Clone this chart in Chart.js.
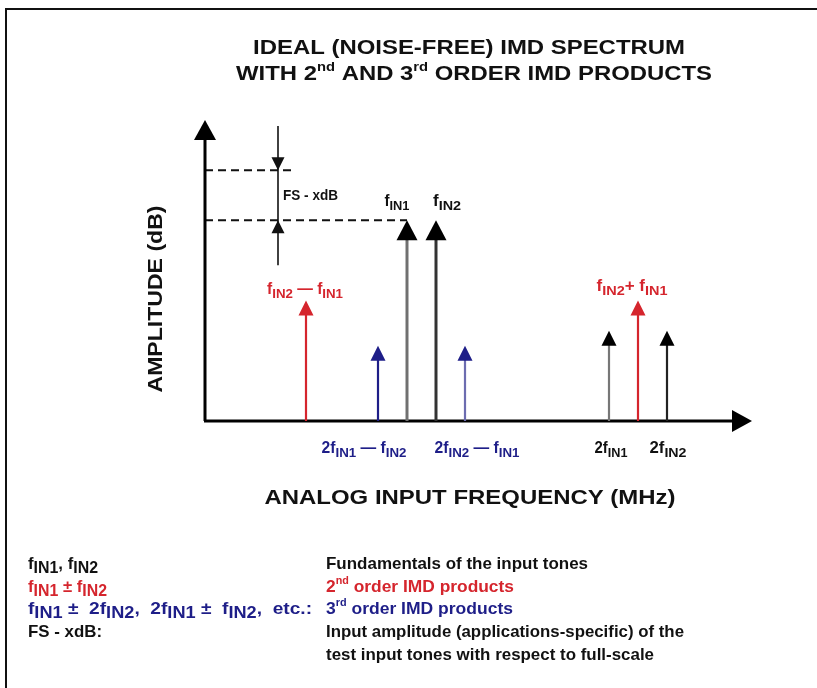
<!DOCTYPE html>
<html>
<head>
<meta charset="utf-8">
<script src="https://cdn.jsdelivr.net/npm/chart.js@4/dist/chart.umd.min.js"></script>
<style>
html, body { margin: 0; padding: 0; background: #fff; }
#frame { position: absolute; left: 5px; top: 8px; width: 830px; height: 700px; border-top: 2px solid #111; border-left: 2px solid #111; }
canvas { position: absolute; left: 0; top: 0; }
</style>
</head>
<body>
<div id="frame"></div>
<canvas id="imd" width="817" height="688"></canvas>
<script>
// spectrum lines (frequency in arbitrary MHz units, amplitude in dB above the floor)
const tones = ['fIN2-fIN1', '2fIN1-fIN2', 'fIN1', 'fIN2', '2fIN2-fIN1', '2fIN1', 'fIN2+fIN1', '2fIN2'];
const freqs = [10.1, 17.3, 20.2, 23.1, 26.0, 40.4, 43.3, 46.2];
const amps = [24, 15, 40, 40, 15, 18, 24, 18];
const orders = ['2nd', '3rd', 'fund', 'fund', '3rd', 'harm', '2nd', 'harm'];
const fullScale = 50;
const freqMax = 54.7;
const ampMax = 60;

const RED = '#d5252d';
const BLUE = '#1e1e88';

// stem / head colours per tone
const stemColors = [RED, BLUE, '#707070', '#333333', '#6c6cb0', '#777777', RED, '#222222'];
const headColors = [RED, BLUE, '#000', '#000', BLUE, '#000', RED, '#000'];

// rich text: segments [text, kind] kind = '' | 'sub' | 'sup'
// fit = target width in px (text is squeezed/stretched horizontally to it)
function rich(ctx, segs, x, y, size, color, align, fit, subScale) {
    const fam = '"Liberation Sans", Arial, sans-serif';
    const ss = subScale || 0.85;
    const fontFor = k => 'bold ' + (k === 'sub' ? size * ss : k === 'sup' ? size * 0.62 : size) + 'px ' + fam;
    let w = 0;
    segs.forEach(s => { ctx.font = fontFor(s[1]); w += ctx.measureText(s[0]).width; });
    const sq = fit ? fit / w : 1;
    let x0 = align === 'center' ? x - w * sq / 2 : align === 'right' ? x - w * sq : x;
    ctx.save();
    ctx.translate(x0, y);
    ctx.scale(sq, 1);
    ctx.fillStyle = color;
    ctx.textBaseline = 'middle';
    ctx.textAlign = 'left';
    let cx = 0;
    segs.forEach(s => {
        ctx.font = fontFor(s[1]);
        const dy = s[1] === 'sub' ? size * 0.28 : s[1] === 'sup' ? -size * 0.32 : 0;
        ctx.fillText(s[0], cx, dy);
        cx += ctx.measureText(s[0]).width;
    });
    ctx.restore();
}

function head(ctx, x, tipY, w, h, color, up) {
    ctx.fillStyle = color;
    ctx.beginPath();
    ctx.moveTo(x, tipY);
    ctx.lineTo(x - w / 2, tipY + (up ? h : -h));
    ctx.lineTo(x + w / 2, tipY + (up ? h : -h));
    ctx.closePath();
    ctx.fill();
}

const f = t => [['f', ''], [t, 'sub']];

const spectrumPlugin = {
    id: 'spectrum',
    afterDatasetsDraw(chart) {
        const ctx = chart.ctx;
        const xs = chart.scales.x, ys = chart.scales.y;
        const x0 = xs.getPixelForValue(0), y0 = ys.getPixelForValue(0);
        const xEnd = xs.getPixelForValue(freqMax), yTop = ys.getPixelForValue(ampMax);

        // titles
        rich(ctx, [['IDEAL (NOISE-FREE) IMD SPECTRUM', '']], 469, 48, 21, '#111', 'center', 432);
        rich(ctx, [['WITH 2', ''], ['nd', 'sup'], [' AND 3', ''], ['rd', 'sup'], [' ORDER IMD PRODUCTS', '']], 474, 74, 21, '#111', 'center', 476);
        rich(ctx, [['ANALOG INPUT FREQUENCY (MHz)', '']], 470, 498, 20, '#111', 'center', 411);
        ctx.save();
        ctx.translate(156, 299);
        ctx.rotate(-Math.PI / 2);
        rich(ctx, [['AMPLITUDE (dB)', '']], 0, 0, 20, '#111', 'center', 187);
        ctx.restore();

        // full-scale reference dashes
        const yFS = ys.getPixelForValue(fullScale);
        const yF = ys.getPixelForValue(amps[2]);
        ctx.save();
        ctx.strokeStyle = '#111';
        ctx.lineWidth = 2;
        ctx.setLineDash([8, 5]);
        ctx.beginPath();
        ctx.moveTo(x0, yFS); ctx.lineTo(x0 + 88, yFS);
        ctx.moveTo(x0, yF); ctx.lineTo(xs.getPixelForValue(freqs[2]), yF);
        ctx.stroke();
        ctx.setLineDash([]);
        // FS - xdB marker
        const mx = x0 + 73;
        ctx.lineWidth = 1.6;
        ctx.beginPath();
        ctx.moveTo(mx, yTop + 6); ctx.lineTo(mx, yF + 45);
        ctx.stroke();
        head(ctx, mx, yFS, 13, 13, '#111', false);
        head(ctx, mx, yF, 13, 13, '#111', true);
        ctx.restore();
        rich(ctx, [['FS - xdB', '']], mx + 5, yFS + 26, 14, '#111', 'left', 55);

        // axes
        ctx.save();
        ctx.strokeStyle = '#000';
        ctx.lineWidth = 3;
        ctx.beginPath();
        ctx.moveTo(x0, y0); ctx.lineTo(x0, yTop + 15);
        ctx.moveTo(x0 - 1, y0); ctx.lineTo(xEnd - 15, y0);
        ctx.stroke();
        ctx.restore();
        head(ctx, x0, yTop, 22, 20, '#000', true);
        ctx.fillStyle = '#000';
        ctx.beginPath();
        ctx.moveTo(xEnd, y0);
        ctx.lineTo(xEnd - 20, y0 - 11);
        ctx.lineTo(xEnd - 20, y0 + 11);
        ctx.closePath();
        ctx.fill();

        // spectral lines
        const meta = chart.getDatasetMeta(0);
        meta.data.forEach((pt, i) => {
            const big = orders[i] === 'fund';
            const hw = big ? 21 : 15, hh = big ? 20 : 15;
            ctx.save();
            ctx.strokeStyle = stemColors[i];
            ctx.lineWidth = big ? 3 : 2.2;
            ctx.beginPath();
            ctx.moveTo(pt.x, y0);
            ctx.lineTo(pt.x, pt.y + hh - 1);
            ctx.stroke();
            ctx.restore();
            head(ctx, pt.x, pt.y, hw, hh, headColors[i], true);
        });

        // line labels
        const px = i => xs.getPixelForValue(freqs[i]);
        const py = i => ys.getPixelForValue(amps[i]);
        const ls = 16;
        rich(ctx, [...f('IN2'), [' \u2014 ', ''], ...f('IN1')], px(0) - 1, py(0) - 11, ls, RED, 'center', 76);
        rich(ctx, f('IN1'), px(2) - 10, py(2) - 19, ls, '#111', 'center', 25);
        rich(ctx, f('IN2'), px(3) + 11, py(3) - 19, ls, '#111', 'center', 28);
        rich(ctx, [...f('IN2'), ['+ ', ''], ...f('IN1')], px(6) - 6, py(6) - 14, ls, RED, 'center', 71);
        const yb = y0 + 28;
        rich(ctx, [['2', ''], ...f('IN1'), [' \u2014 ', ''], ...f('IN2')], px(1) - 14, yb, ls, BLUE, 'center', 85);
        rich(ctx, [['2', ''], ...f('IN2'), [' \u2014 ', ''], ...f('IN1')], px(4) + 12, yb, ls, BLUE, 'center', 85);
        rich(ctx, [['2', ''], ...f('IN1')], px(5) + 2, yb, ls, '#111', 'center', 33);
        rich(ctx, [['2', ''], ...f('IN2')], px(7) + 1, yb, ls, '#111', 'center', 37);

        // legend
        const lx = 28, rx = 326, ly = [564, 587, 609, 632, 655], lsz = 17, sub = 0.95;
        rich(ctx, [...f('IN1'), [', ', ''], ...f('IN2')], lx, ly[0], lsz, '#111', 'left', 70, sub);
        rich(ctx, [...f('IN1'), [' \u00b1 ', ''], ...f('IN2')], lx, ly[1], lsz, RED, 'left', 79, sub);
        rich(ctx, [...f('IN1'), [' \u00b1  2', ''], ...f('IN2'), [',  2', ''], ...f('IN1'), [' \u00b1  ', ''], ...f('IN2'), [',  etc.:', '']], lx, ly[2], lsz, BLUE, 'left', 284, sub);
        rich(ctx, [['FS - xdB:', '']], lx, ly[3], lsz, '#111', 'left', 74);
        rich(ctx, [['Fundamentals of the input tones', '']], rx, ly[0], lsz, '#111', 'left', 262);
        rich(ctx, [['2', ''], ['nd', 'sup'], [' order IMD products', '']], rx, ly[1], lsz, RED, 'left', 188);
        rich(ctx, [['3', ''], ['rd', 'sup'], [' order IMD products', '']], rx, ly[2], lsz, BLUE, 'left', 187);
        rich(ctx, [['Input amplitude (applications-specific) of the', '']], rx, ly[3], lsz, '#111', 'left', 358);
        rich(ctx, [['test input tones with respect to full-scale', '']], rx, ly[4], lsz, '#111', 'left', 328);
    }
};

new Chart(document.getElementById('imd').getContext('2d'), {
    type: 'scatter',
    data: {
        datasets: [{
            label: 'IMD spectrum',
            data: freqs.map((v, i) => ({ x: v, y: amps[i] })),
            pointRadius: 0,
            pointHoverRadius: 0
        }]
    },
    options: {
        responsive: false,
        animation: false,
        events: [],
        layout: { padding: { left: 205, right: 65, top: 120, bottom: 267 } },
        plugins: { legend: { display: false }, tooltip: { enabled: false } },
        scales: {
            x: { type: 'linear', min: 0, max: freqMax, display: false },
            y: { type: 'linear', min: 0, max: ampMax, display: false }
        }
    },
    plugins: [spectrumPlugin]
});
</script>
</body>
</html>
